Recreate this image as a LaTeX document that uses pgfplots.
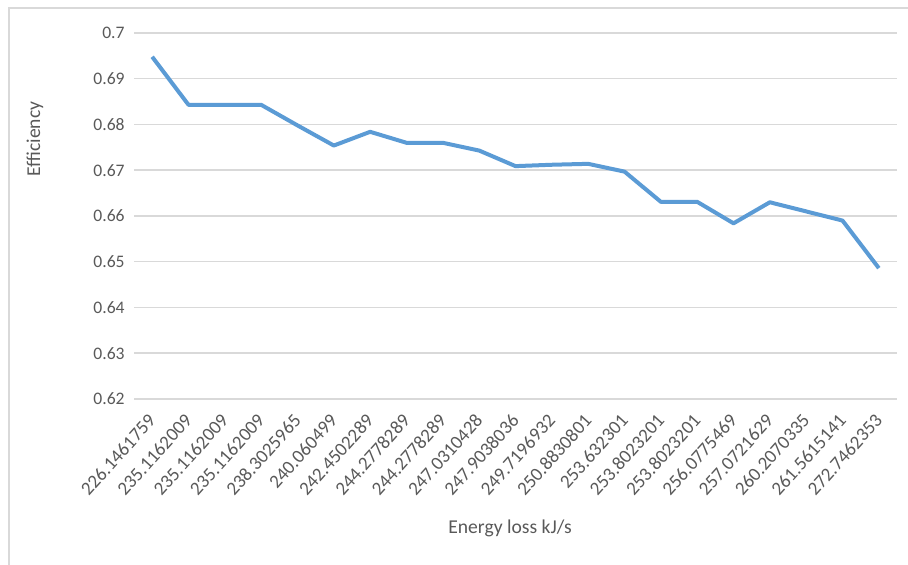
\documentclass[border=0pt]{standalone}
\usepackage{pgfplots}
\pgfplotsset{compat=1.18}
\usepackage{fontspec}
\setmainfont{Carlito}
\definecolor{lineblue}{HTML}{5B9BD5}
\definecolor{gridgray}{HTML}{D9D9D9}
\definecolor{textgray}{HTML}{595959}

\begin{document}
\begin{tikzpicture}
\useasboundingbox (0,0) rectangle (454pt,282.5pt);
\draw[gridgray, line width=0.75pt] (4.5pt,0) -- (4.5pt,278.5pt) -- (454pt,278.5pt);
\begin{axis}[
at={(67pt,83pt)}, anchor=south west,
scale only axis,
width=381.5pt, height=183pt,
xmin=-0.5, xmax=20.5,
ymin=0.62, ymax=0.7,
ytick={0.62,0.63,...,0.705},
xtick={0,...,20},
xticklabels={226.1461759,235.1162009,235.1162009,235.1162009,238.3025965,240.060499,242.4502289,244.2778289,244.2778289,247.0310428,247.9038036,249.7196932,250.8830801,253.632301,253.8023201,253.8023201,256.0775469,257.0721629,260.2070335,261.5615141,272.7462353},
axis line style={draw=none},
major tick length=0pt,
ymajorgrids,
major grid style={gridgray, line width=0.75pt},
/pgf/number format/assume math mode=true,
/pgf/number format/fixed,
/pgf/number format/precision=2,
every tick label/.append style={font=\fontsize{8.8}{10}\selectfont, textgray},
yticklabel style={anchor=east, inner sep=0pt, xshift=-4.5pt},
xticklabel style={rotate=48, anchor=east, inner sep=0pt, font=\fontsize{9.5}{11}\selectfont},
xticklabel shift=9pt,
xlabel={Energy loss kJ/s},
ylabel={Efficiency},
every axis label/.append style={font=\fontsize{9.8}{11}\selectfont, textgray},
xlabel style={at={(axis description cs:0.4928,-0.3525)}, anchor=center},
ylabel style={at={(axis description cs:-0.1297,0.7104)}, anchor=center},
clip=false,
]
\addplot[lineblue, line width=2pt, line join=round] coordinates {
(0,0.6948) (1,0.6843) (2,0.6843) (3,0.6843) (4,0.6798) (5,0.6754)
(6,0.6784) (7,0.6760) (8,0.6760) (9,0.6743) (10,0.6709) (11,0.6712)
(12,0.6714) (13,0.6697) (14,0.6631) (15,0.6631) (16,0.6584) (17,0.6630)
(18,0.6610) (19,0.6590) (20,0.6486)
};
\end{axis}
\end{tikzpicture}
\end{document}
